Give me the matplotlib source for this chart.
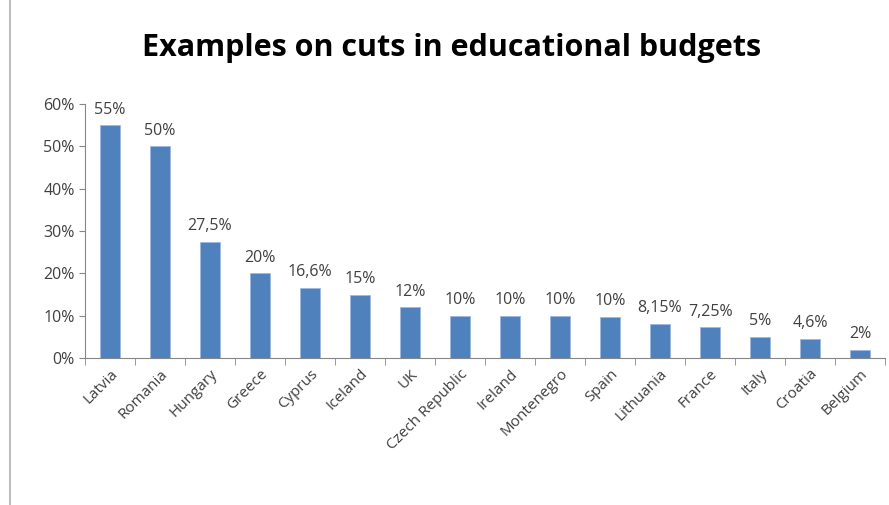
import matplotlib.pyplot as plt
from matplotlib.lines import Line2D
import numpy as np

countries = ["Latvia", "Romania", "Hungary", "Greece", "Cyprus", "Iceland", "UK",
             "Czech Republic", "Ireland", "Montenegro", "Spain", "Lithuania",
             "France", "Italy", "Croatia", "Belgium"]
cuts = [55, 50, 27.5, 20, 16.6, 15, 12, 10, 10, 10, 9.7, 8.15, 7.25, 5, 4.6, 2]
labels = ["55%", "50%", "27,5%", "20%", "16,6%", "15%", "12%", "10%", "10%", "10%",
          "10%", "8,15%", "7,25%", "5%", "4,6%", "2%"]

plt.rcParams['font.family'] = ['Open Sans', 'DejaVu Sans']
txt = '#404040'

fig = plt.figure(figsize=(8.89, 5.05), dpi=100)
ax = fig.add_axes([0.0956, 0.291, 0.9, 0.503])
x = np.arange(len(countries))
ax.bar(x, cuts, width=0.4, color='#4F81BD', edgecolor='#9DB9DD', linewidth=0.6)
for xi, v, lab in zip(x, cuts, labels):
    ax.text(xi, v + 1.8, lab, ha='center', va='bottom', fontsize=11.5, color=txt)

ax.set_xlim(-0.5, len(countries) - 0.5)
ax.set_ylim(0, 60)
ax.set_yticks(range(0, 61, 10))
ax.set_yticklabels([f"{t}%" for t in range(0, 61, 10)], fontsize=11.5, color=txt)
ax.set_xticks(x)
ax.set_xticklabels(countries, rotation=45, ha='right', rotation_mode='anchor',
                   fontsize=11, color=txt)
ax.tick_params(axis='x', length=0, pad=6)
ax.set_xticks(np.arange(-0.5, len(countries), 1), minor=True)
ax.tick_params(axis='x', which='minor', length=5, color='#868686')
ax.tick_params(axis='y', length=4, color='#868686')
for s in ['top', 'right']:
    ax.spines[s].set_visible(False)
for s in ['left', 'bottom']:
    ax.spines[s].set_color('#868686')

fig.text(0.508, 0.905, "Examples on cuts in educational budgets", ha='center',
         va='center', fontsize=22, fontweight='bold', color='black')
fig.add_artist(Line2D([0.011, 0.011], [0.0, 1.0], color='#BFBFBF', linewidth=1.5))

plt.savefig('out.png', dpi=100)
